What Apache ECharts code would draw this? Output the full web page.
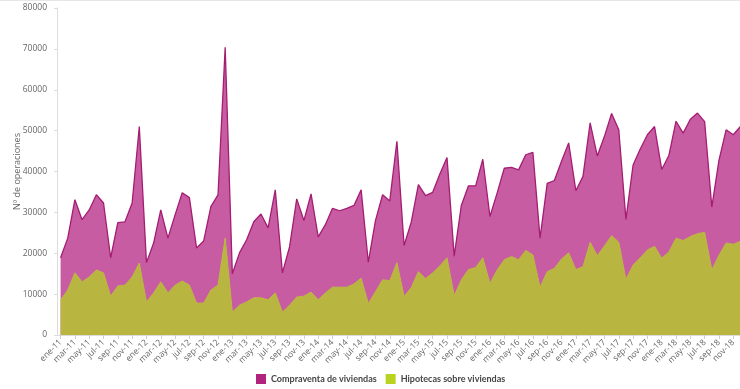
<!DOCTYPE html>
<html>
<head>
<meta charset="utf-8">
<script src="https://cdn.jsdelivr.net/npm/echarts@6/dist/echarts.min.js"></script>
<style>
html,body{margin:0;padding:0;background:#fff;}
#c{width:740px;height:389px;border-top:1px solid #e6e6e6;box-sizing:border-box;}
</style>
</head>
<body>
<div id="c"></div>
<script>
var monthNames = ['ene','feb','mar','abr','may','jun','jul','ago','sep','oct','nov','dic'];
var years = ['11','12','13','14','15','16','17','18'];
var categories = [];
years.forEach(function(y){ monthNames.forEach(function(m){ categories.push(m + '-' + y); }); });

var compraventa = [
18900,23700,33100,28200,30600,34300,32300,18900,27500,27700,32300,51000,
17700,22500,30600,23700,29400,34800,33600,21300,23000,31400,34300,70400,
15000,20100,23300,27700,29600,26200,35500,15200,21600,33300,28000,34500,
24000,27000,31000,30400,31000,31700,35500,17800,28000,34300,32800,47400,
21900,27600,36800,34100,34900,39400,43400,19300,31700,36500,36500,43000,
29000,34700,40800,41000,40400,44100,44700,23700,37100,37800,42500,47000,
35300,38800,51900,43800,48600,54200,50200,28300,41600,45500,49000,51000,
40500,43900,52300,49400,52800,54300,52200,31300,42700,50200,49000,51000
];
var hipotecas = [
8600,11000,15200,13000,14200,15900,15200,9500,12000,12200,14200,17600,
8100,10300,13000,10300,12200,13200,12200,7800,7800,11000,12200,23700,
5600,7300,8100,9100,9100,8600,10300,5600,7300,9300,9500,10500,
8600,10300,11700,11700,11700,12500,13900,7700,10600,13500,13300,17700,
9400,11600,15500,13800,15200,16900,18900,9600,13500,16000,16500,18900,
12600,15900,18400,19200,18400,20700,19600,11700,15500,16300,18600,20100,
16000,16700,22700,19400,21800,24300,22700,13600,17100,18900,20800,21700,
18800,20300,23700,23100,24100,24800,25100,15900,19500,22500,22200,22900
];
var yTicks = {min:0, max:80000, interval:10000};
var seriesNames = ['Compraventa de viviendas','Hipotecas sobre viviendas'];

var chart = echarts.init(document.getElementById('c'), null, {renderer:'canvas'});
chart.setOption({
  animation:false,
  textStyle:{fontFamily:'Open Sans'},
  grid:{left:57, right:-4, top:7, bottom:54, containLabel:false, outerBoundsMode:'none'},
  legend:{
    bottom:0, left:251, itemWidth:10, itemHeight:10, itemGap:9, icon:'rect',
    textStyle:{fontSize:9, fontWeight:'bold', color:'#444', fontFamily:'Lato'},
    data:[
      {name:seriesNames[0], itemStyle:{color:'#b1247c'}},
      {name:seriesNames[1], itemStyle:{color:'#b9d320'}}
    ]
  },
  xAxis:{
    type:'category', data:categories, boundaryGap:true,
    axisLine:{show:true, lineStyle:{color:'#dcdcdc'}},
    axisTick:{show:true, alignWithLabel:true, interval:1, length:4, lineStyle:{color:'#cfcfcf'}},
    axisLabel:{interval:1, rotate:45, fontSize:8.5, color:'#666', margin:6}
  },
  yAxis:{
    type:'value', min:yTicks.min, max:yTicks.max, interval:yTicks.interval,
    name:'Nº de operaciones', nameLocation:'middle', nameGap:35, nameRotate:90,
    nameMoveOverlap:false,
    nameTextStyle:{fontSize:9, color:'#666'},
    axisLine:{show:true, lineStyle:{color:'#dcdcdc'}},
    axisTick:{show:true, length:3, lineStyle:{color:'#dcdcdc'}},
    splitLine:{show:false},
    axisLabel:{fontSize:8.5, color:'#666', margin:10, formatter:function(v){return String(v);}}
  },
  series:[
    {name:seriesNames[0], type:'line', data:compraventa, symbol:'none',
     lineStyle:{color:'#a41d72', width:1.3},
     itemStyle:{color:'#b1247c'},
     areaStyle:{color:'#c75ca2', opacity:1}},
    {name:seriesNames[1], type:'line', data:hipotecas, symbol:'none',
     lineStyle:{color:'#bcb843', width:1},
     itemStyle:{color:'#b9d320'},
     areaStyle:{color:'#b9b541', opacity:1}}
  ]
});
</script>
</body>
</html>
